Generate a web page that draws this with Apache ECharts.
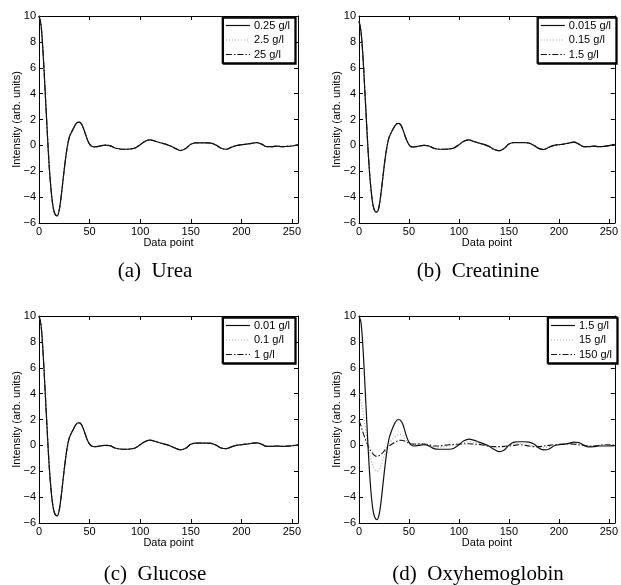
<!DOCTYPE html>
<html><head><meta charset="utf-8">
<script src="https://cdn.jsdelivr.net/npm/echarts@6/dist/echarts.min.js"></script>
<style>html,body{margin:0;padding:0;background:#fff}#c{width:621px;height:585px}</style>
</head><body><div id="c"></div>
<script>
// sample positions (data point index)
const xs = [0,2,4,6,8,10,12,14,16,18,20,22,24,26,28,30,32,34,36,38,40,42,44,46,48,50,52,55,60,65,70,75,80,85,90,95,100,105,110,115,120,125,130,135,140,145,150,155,160,165,170,175,180,185,190,195,200,205,210,215,220,225,230,235,240,245,250,256];

// (a) Urea
const ureaNames = ['0.25 g/l','2.5 g/l','25 g/l'];
const urea1 = [10,9.3,7.2,4.3,1.3,-1.5,-3.5,-4.8,-5.35,-5.45,-5.0,-3.9,-2.5,-1.2,-0.1,0.65,1.0,1.3,1.6,1.78,1.8,1.65,1.3,0.85,0.4,0.1,-0.07,-0.12,-0.06,0.02,-0.02,-0.2,-0.28,-0.3,-0.28,-0.2,0.05,0.32,0.42,0.32,0.2,0.1,-0.05,-0.25,-0.4,-0.25,0.08,0.2,0.2,0.2,0.18,0.02,-0.22,-0.3,-0.15,-0.02,0.05,0.1,0.15,0.22,0.1,-0.1,-0.1,-0.06,-0.1,-0.08,-0.05,0.05];
const urea2 = [10,9.3,7.2,4.3,1.3,-1.5,-3.5,-4.8,-5.35,-5.45,-5.0,-3.9,-2.5,-1.2,-0.1,0.65,1.0,1.3,1.6,1.77,1.8,1.65,1.3,0.85,0.4,0.1,-0.07,-0.12,-0.06,0.02,-0.02,-0.2,-0.28,-0.3,-0.28,-0.2,0.05,0.32,0.41,0.32,0.2,0.1,-0.05,-0.25,-0.39,-0.25,0.08,0.2,0.2,0.2,0.18,0.02,-0.22,-0.3,-0.15,-0.02,0.05,0.1,0.15,0.22,0.1,-0.1,-0.1,-0.06,-0.1,-0.08,-0.05,0.05];
const urea3 = [10,9.3,7.2,4.3,1.3,-1.5,-3.5,-4.8,-5.35,-5.45,-5.0,-3.9,-2.5,-1.2,-0.1,0.65,1.0,1.3,1.6,1.77,1.79,1.65,1.3,0.85,0.4,0.1,-0.07,-0.12,-0.06,0.02,-0.02,-0.2,-0.28,-0.3,-0.28,-0.2,0.05,0.32,0.41,0.32,0.2,0.1,-0.05,-0.25,-0.38,-0.25,0.08,0.2,0.2,0.2,0.18,0.02,-0.22,-0.3,-0.15,-0.02,0.05,0.1,0.15,0.22,0.1,-0.1,-0.1,-0.06,-0.1,-0.08,-0.05,0.05];

// (b) Creatinine
const creaNames = ['0.015 g/l','0.15 g/l','1.5 g/l'];
const crea1 = [9.6,8.8,6.8,4.0,1.1,-1.5,-3.4,-4.6,-5.1,-5.15,-4.75,-3.7,-2.4,-1.1,-0.1,0.6,0.95,1.25,1.5,1.68,1.7,1.55,1.2,0.75,0.35,0.05,-0.1,-0.12,-0.05,0.0,-0.05,-0.22,-0.3,-0.3,-0.28,-0.2,0.05,0.32,0.42,0.3,0.18,0.08,-0.08,-0.3,-0.42,-0.25,0.1,0.22,0.22,0.22,0.18,0.0,-0.25,-0.32,-0.15,0.0,0.05,0.1,0.18,0.25,0.1,-0.1,-0.1,-0.06,-0.1,-0.08,-0.02,0.08];
const crea2 = [9.6,8.8,6.8,4.0,1.1,-1.5,-3.4,-4.6,-5.1,-5.15,-4.75,-3.7,-2.4,-1.1,-0.1,0.6,0.95,1.25,1.5,1.68,1.7,1.55,1.2,0.75,0.35,0.05,-0.1,-0.12,-0.05,0.0,-0.05,-0.22,-0.3,-0.3,-0.28,-0.2,0.05,0.32,0.42,0.3,0.18,0.08,-0.08,-0.3,-0.42,-0.25,0.1,0.22,0.22,0.22,0.18,0.0,-0.25,-0.32,-0.15,0.0,0.05,0.1,0.18,0.25,0.1,-0.1,-0.1,-0.06,-0.1,-0.08,-0.02,0.08];
const crea3 = [9.6,8.8,6.8,4.0,1.1,-1.5,-3.4,-4.6,-5.1,-5.15,-4.75,-3.7,-2.4,-1.1,-0.1,0.6,0.95,1.25,1.5,1.67,1.69,1.55,1.2,0.75,0.35,0.05,-0.1,-0.12,-0.05,0.0,-0.05,-0.22,-0.3,-0.3,-0.28,-0.2,0.05,0.32,0.41,0.3,0.18,0.08,-0.08,-0.3,-0.4,-0.25,0.1,0.22,0.22,0.22,0.18,0.0,-0.22,-0.3,-0.15,0.0,0.05,0.1,0.18,0.25,0.1,-0.1,-0.1,-0.06,-0.1,-0.08,-0.02,0.08];

// (c) Glucose
const glucNames = ['0.01 g/l','0.1 g/l','1 g/l'];
const gluc1 = [10,9.3,7.2,4.3,1.3,-1.5,-3.5,-4.8,-5.35,-5.45,-5.0,-3.9,-2.5,-1.2,-0.1,0.6,0.95,1.25,1.55,1.73,1.75,1.6,1.25,0.8,0.38,0.1,-0.05,-0.1,-0.05,0.0,-0.02,-0.2,-0.28,-0.3,-0.28,-0.2,0.05,0.3,0.4,0.3,0.18,0.08,-0.05,-0.22,-0.35,-0.22,0.08,0.18,0.18,0.18,0.16,0.02,-0.2,-0.25,-0.12,0.0,0.05,0.1,0.15,0.2,0.1,-0.08,-0.08,-0.05,-0.08,-0.06,-0.03,0.05];
const gluc2 = [10,9.3,7.2,4.3,1.3,-1.5,-3.5,-4.8,-5.35,-5.45,-5.0,-3.9,-2.5,-1.2,-0.1,0.6,0.95,1.25,1.55,1.73,1.75,1.6,1.25,0.8,0.38,0.1,-0.05,-0.1,-0.05,0.0,-0.02,-0.2,-0.28,-0.3,-0.28,-0.2,0.05,0.3,0.4,0.3,0.18,0.08,-0.05,-0.22,-0.35,-0.22,0.08,0.18,0.18,0.18,0.16,0.02,-0.2,-0.25,-0.12,0.0,0.05,0.1,0.15,0.2,0.1,-0.08,-0.08,-0.05,-0.08,-0.06,-0.03,0.05];
const gluc3 = [10,9.3,7.2,4.3,1.3,-1.5,-3.5,-4.8,-5.35,-5.45,-5.0,-3.9,-2.5,-1.2,-0.1,0.6,0.95,1.25,1.55,1.72,1.74,1.6,1.25,0.8,0.38,0.1,-0.05,-0.1,-0.05,0.0,-0.02,-0.2,-0.28,-0.3,-0.28,-0.2,0.05,0.3,0.39,0.3,0.18,0.08,-0.05,-0.22,-0.34,-0.22,0.08,0.18,0.18,0.18,0.16,0.02,-0.2,-0.25,-0.12,0.0,0.05,0.1,0.15,0.2,0.1,-0.08,-0.08,-0.05,-0.08,-0.06,-0.03,0.05];

// (d) Oxyhemoglobin
const oxyNames = ['1.5 g/l ','15 g/l','150 g/l'];
const oxy1 = [10,9.5,7.5,4.6,1.5,-1.4,-3.6,-5.0,-5.6,-5.75,-5.4,-4.4,-3.0,-1.6,-0.4,0.5,1.0,1.4,1.75,1.95,2.0,1.9,1.6,1.1,0.6,0.25,0.05,-0.05,0.0,0.05,-0.05,-0.25,-0.3,-0.3,-0.3,-0.22,0.05,0.35,0.48,0.4,0.25,0.12,-0.05,-0.3,-0.48,-0.38,0.0,0.25,0.28,0.28,0.25,0.1,-0.2,-0.35,-0.3,-0.05,0.05,0.08,0.15,0.25,0.22,0.0,-0.12,-0.1,-0.05,-0.05,-0.05,-0.02];
const oxy2 = [4.0,3.4,2.5,1.5,0.5,-0.4,-1.1,-1.6,-1.9,-2.0,-1.9,-1.55,-1.1,-0.6,-0.2,0.15,0.35,0.5,0.65,0.78,0.85,0.85,0.75,0.55,0.35,0.2,0.12,0.1,0.1,0.1,0.0,-0.15,-0.15,-0.1,-0.05,0.0,0.1,0.2,0.28,0.22,0.15,0.05,-0.05,-0.15,-0.2,-0.15,0.0,0.12,0.12,0.1,0.05,-0.05,-0.15,-0.18,-0.1,0.0,0.05,0.08,0.1,0.12,0.12,0.0,-0.05,-0.05,0.0,0.05,0.0,-0.02];
const oxy3 = [1.9,1.5,1.0,0.55,0.15,-0.2,-0.45,-0.65,-0.8,-0.85,-0.8,-0.7,-0.55,-0.35,-0.2,-0.05,0.05,0.15,0.25,0.32,0.38,0.4,0.38,0.32,0.25,0.18,0.12,0.1,0.12,0.1,0.05,-0.05,-0.05,0.0,0.05,0.08,0.1,0.12,0.12,0.1,0.08,0.02,-0.05,-0.1,-0.1,-0.08,-0.05,0.0,0.05,0.02,-0.05,-0.1,-0.1,-0.05,0.0,0.05,0.08,0.1,0.12,0.1,0.05,0.0,-0.05,-0.05,0.0,0.05,0.05,0.0];

const captions = ['(a)  Urea','(b)  Creatinine','(c)  Glucose','(d)  Oxyhemoglobin'];
const xTicks = [0,50,100,150,200,250];
const yTicks = [-6,-4,-2,0,2,4,6,8,10];

const panels = [
  {names: ureaNames, ys: [urea1, urea2, urea3]},
  {names: creaNames, ys: [crea1, crea2, crea3]},
  {names: glucNames, ys: [gluc1, gluc2, gluc3]},
  {names: oxyNames, ys: [oxy1, oxy2, oxy3]}
];

const grids = [
  {left: 39, top: 16, width: 259, height: 207},
  {left: 359, top: 16, width: 258, height: 207},
  {left: 39, top: 316, width: 259, height: 207},
  {left: 359, top: 316, width: 258, height: 207}
];
const legendPos = [
  {right: 326, top: 17}, {right: 5, top: 17}, {right: 326, top: 317}, {right: 4, top: 317}
];
const capPos = [[155, 271], [478, 271], [155, 574], [478, 574]];

const styles = [
  {color: '#111', type: 'solid', width: 1.2},
  {color: '#a0a0a0', type: [1, 2], width: 1.1},
  {color: '#111', type: [6, 2, 1.5, 2], width: 1.1}
];

const FONT = 'Liberation Sans, Arial, sans-serif';
const minus = v => String(v).replace('-', '\u2212');

const xAxis = [], yAxis = [], series = [], legend = [], graphic = [];
grids.forEach((g, i) => {
  const common = {gridIndex: i, type: 'value', splitLine: {show: false},
    axisLine: {show: true, onZero: false, lineStyle: {color: '#000', width: 1}},
    axisTick: {show: true, inside: true, length: 4, lineStyle: {color: '#000'}}};
  xAxis.push(Object.assign({}, common, {position: 'bottom', min: 0, max: 256, interval: 50,
    name: 'Data point', nameLocation: 'middle', nameGap: 14, nameMoveOverlap: false,
    nameTextStyle: {fontFamily: FONT, fontSize: 11, color: '#000'},
    axisLabel: {show: true, margin: 3, fontFamily: FONT, fontSize: 11, color: '#000', showMaxLabel: false,
      formatter: v => xTicks.includes(v) ? String(v) : ''}}));
  xAxis.push(Object.assign({}, common, {position: 'top', min: 0, max: 256, interval: 50,
    axisLabel: {show: false}}));
  yAxis.push(Object.assign({}, common, {position: 'left', min: -6, max: 10, interval: 2,
    name: 'Intensity (arb. units)', nameLocation: 'middle', nameGap: 17, nameMoveOverlap: false,
    nameTextStyle: {fontFamily: FONT, fontSize: 11, color: '#000'},
    axisLabel: {show: true, margin: 3, fontFamily: FONT, fontSize: 11, color: '#000',
      formatter: v => yTicks.includes(v) ? minus(v) : ''}}));
  yAxis.push(Object.assign({}, common, {position: 'right', min: -6, max: 10, interval: 2,
    axisLabel: {show: false}}));

  const p = panels[i];
  p.ys.forEach((ys, k) => {
    series.push({
      type: 'line', name: p.names[k], xAxisIndex: 2 * i, yAxisIndex: 2 * i,
      data: xs.map((x, j) => [x, ys[j]]),
      smooth: 0.35, symbol: 'none', showSymbol: false, animation: false,
      lineStyle: {color: styles[k].color, type: styles[k].type, width: styles[k].width},
      itemStyle: {color: styles[k].color},
      z: 10 - k
    });
  });
  legend.push(Object.assign({
    data: p.names, orient: 'vertical', selectedMode: false,
    itemWidth: 24, itemHeight: 10, itemGap: 3.5,
    padding: [3, 5, 3, 3],
    backgroundColor: '#fff', borderColor: '#000', borderWidth: 1.3, borderRadius: 0,
    shadowColor: '#000', shadowOffsetX: 1, shadowOffsetY: 1, shadowBlur: 0,
    itemStyle: {color: 'transparent', borderColor: 'transparent', borderWidth: 0, opacity: 0},
    lineStyle: {width: 1.2},
    textStyle: {fontFamily: FONT, fontSize: 11, color: '#000', padding: [0, 0, 0, -1]}
  }, legendPos[i]));
  graphic.push({type: 'text', x: capPos[i][0], y: capPos[i][1],
    style: {text: captions[i], font: '21px "Liberation Serif", "Times New Roman", serif',
      fill: '#000', align: 'center', verticalAlign: 'middle',
      textAlign: 'center', textVerticalAlign: 'middle'}});
});

const chart = echarts.init(document.getElementById('c'), null, {renderer: 'canvas'});
chart.setOption({
  backgroundColor: '#fff', animation: false,
  grid: grids.map(g => Object.assign({containLabel: false}, g)),
  xAxis, yAxis, series, legend, graphic
});
</script></body></html>
